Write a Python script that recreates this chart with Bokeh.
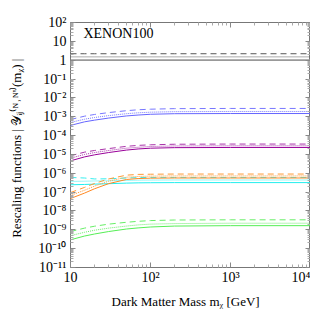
from bokeh.plotting import figure
from bokeh.models import LogAxis, CustomJSTickFormatter, FixedTicker, Label
from bokeh.embed import file_html
from bokeh.resources import INLINE

# Dark matter mass (GeV)
mass = [10, 15, 20, 30, 50, 70, 100, 200, 1000, 10000]

# Gray (reference) curves
gray_solid = [1.0] * 10
gray_dotted = [1.5] * 10
gray_dashed = [2.2] * 10

blue_solid = [3.47e-4, 5.37e-4, 6.6e-4, 8.5e-4, 1.1e-3, 1.23e-3, 1.35e-3, 1.45e-3, 1.48e-3, 1.48e-3]
blue_dotted = [5.0e-4, 7.4e-4, 9.1e-4, 1.15e-3, 1.45e-3, 1.62e-3, 1.74e-3, 1.86e-3, 1.9e-3, 1.9e-3]
blue_dashed = [7.1e-4, 1.07e-3, 1.32e-3, 1.66e-3, 2.09e-3, 2.34e-3, 2.51e-3, 2.69e-3, 2.75e-3, 2.75e-3]

purple_solid = [4.57e-6, 7.4e-6, 9.5e-6, 1.26e-5, 1.7e-5, 1.95e-5, 2.14e-5, 2.29e-5, 2.34e-5, 2.34e-5]
purple_dotted = [6.3e-6, 1.0e-5, 1.26e-5, 1.62e-5, 2.14e-5, 2.4e-5, 2.63e-5, 2.82e-5, 2.88e-5, 2.88e-5]
purple_dashed = [8.5e-6, 1.32e-5, 1.62e-5, 2.04e-5, 2.69e-5, 3.02e-5, 3.24e-5, 3.47e-5, 3.55e-5, 3.55e-5]

cyan_solid = [2.45e-7, 2.55e-7, 2.65e-7, 2.8e-7, 3.0e-7, 3.1e-7, 3.15e-7, 3.2e-7, 3.2e-7, 3.2e-7]
cyan_dotted = [3.7e-7, 3.8e-7, 3.9e-7, 4.0e-7, 4.2e-7, 4.3e-7, 4.35e-7, 4.4e-7, 4.4e-7, 4.4e-7]
cyan_dashed = [6.0e-7, 5.6e-7, 5.0e-7, 5.1e-7, 5.6e-7, 5.9e-7, 6.0e-7, 6.0e-7, 6.0e-7, 6.0e-7]

orange_solid = [4.57e-8, 8.9e-8, 1.51e-7, 2.82e-7, 4.68e-7, 5.25e-7, 5.5e-7, 5.62e-7, 5.62e-7, 5.62e-7]
orange_dotted = [6.6e-8, 1.26e-7, 2.09e-7, 3.8e-7, 6.17e-7, 6.76e-7, 7.08e-7, 7.24e-7, 7.24e-7, 7.24e-7]
orange_dashed = [9.5e-8, 1.78e-7, 2.88e-7, 5.0e-7, 7.94e-7, 8.7e-7, 8.9e-7, 9.1e-7, 9.1e-7, 9.1e-7]

green_solid = [2.95e-10, 4.68e-10, 6.0e-10, 8.1e-10, 1.1e-9, 1.26e-9, 1.41e-9, 1.58e-9, 1.66e-9, 1.66e-9]
green_dotted = [4.9e-10, 7.4e-10, 9.5e-10, 1.23e-9, 1.58e-9, 1.82e-9, 2.0e-9, 2.14e-9, 2.24e-9, 2.24e-9]
green_dashed = [8.1e-10, 1.23e-9, 1.55e-9, 2.0e-9, 2.51e-9, 2.82e-9, 3.09e-9, 3.31e-9, 3.39e-9, 3.39e-9]

x_ticks = [10, 100, 1000, 10000]
y_ticks = [10.0 ** e for e in range(-11, 3)]

serif = "Liberation Serif"

p = figure(frame_width=240, frame_height=245, x_axis_type="log", y_axis_type="log",
           x_range=(10, 1e4), y_range=(1e-11, 1e2),
           output_backend="svg", toolbar_location=None,
           min_border_left=70, min_border_right=0, min_border_top=22, min_border_bottom=0)
p.grid.visible = False
p.outline_line_color = "#777777"
p.background_fill_color = "white"
p.border_fill_color = "white"

xaxis = p.below[0]
yaxis = p.left[0]

fmt = CustomJSTickFormatter(code="""
const sup = {"-":"\u207b","0":"\u2070","1":"\u00b9","2":"\u00b2","3":"\u00b3","4":"\u2074","5":"\u2075","6":"\u2076","7":"\u2077","8":"\u2078","9":"\u2079"};
const e = Math.round(Math.log10(tick));
if (e == 0) return "1";
if (e == 1) return "10";
return "10" + String(e).split("").map(c => sup[c]).join("");
""")
blank = CustomJSTickFormatter(code='return "";')

x_minor = [k * t for t in x_ticks[:-1] for k in range(2, 10)]
y_minor = [k * t for t in y_ticks[:-1] for k in range(2, 10)]

def style(ax, ticks, minor, labels=True):
    ax.ticker = FixedTicker(ticks=ticks, minor_ticks=minor)
    ax.formatter = fmt if labels else blank
    ax.major_tick_in = 5
    ax.major_tick_out = 0
    ax.minor_tick_in = 3
    ax.minor_tick_out = 0
    ax.major_tick_line_color = "#888888"
    ax.minor_tick_line_color = "#aaaaaa"
    ax.axis_line_color = None
    ax.major_label_text_font = serif
    ax.major_label_text_font_size = "14px"
    ax.major_label_text_color = "black"
    if not labels:
        ax.major_label_standoff = 0

style(xaxis, x_ticks, x_minor)
style(yaxis, y_ticks, y_minor)
xaxis.major_label_standoff = 2
yaxis.major_label_standoff = 4

top = LogAxis()
style(top, x_ticks, x_minor, labels=False)
right = LogAxis()
style(right, y_ticks, y_minor, labels=False)
p.add_layout(top, "above")
p.add_layout(right, "right")

xaxis.axis_label = "Dark Matter Mass    m\u1d6a [GeV]"
yaxis.axis_label = "Rescaling functions   | \U0001d4b4\u1d62\u2c7c\u207d\u1d3a\u02d2\u1d3a'\u207e(m\u1d6a) |"
for ax in (xaxis, yaxis):
    ax.axis_label_text_font = serif
    ax.axis_label_text_font_size = "13px"
    ax.axis_label_text_font_style = "normal"
    ax.axis_label_text_color = "black"
xaxis.axis_label_standoff = 6
yaxis.axis_label_standoff = 11

series = [
    ("#999999", gray_solid, gray_dotted, gray_dashed, "#555555"),
    ("#6666ff", blue_solid, blue_dotted, blue_dashed, "#7777ff"),
    ("#990099", purple_solid, purple_dotted, purple_dashed, "#aa33aa"),
    ("#22eeee", cyan_solid, cyan_dotted, cyan_dashed, "#33eeee"),
    ("#ff8822", orange_solid, orange_dotted, orange_dashed, "#ff9933"),
    ("#55ee55", green_solid, green_dotted, green_dashed, "#66ee66"),
]
for color, s, d, da, dcol in series:
    p.line(mass, s, line_color=color, line_width=1.8 if color == "#999999" else 1.0)
    p.line(mass, d, line_color=dcol, line_width=1.0, line_dash="1 1")
    p.line(mass, da, line_color=dcol, line_width=1.0, line_dash="6 4")

p.add_layout(Label(x=14.5, y=27.6, text="XENON100", text_font=serif,
                   text_font_size="14px", text_baseline="middle", text_color="black"))

open("out.html", "w").write(file_html(p, INLINE))
